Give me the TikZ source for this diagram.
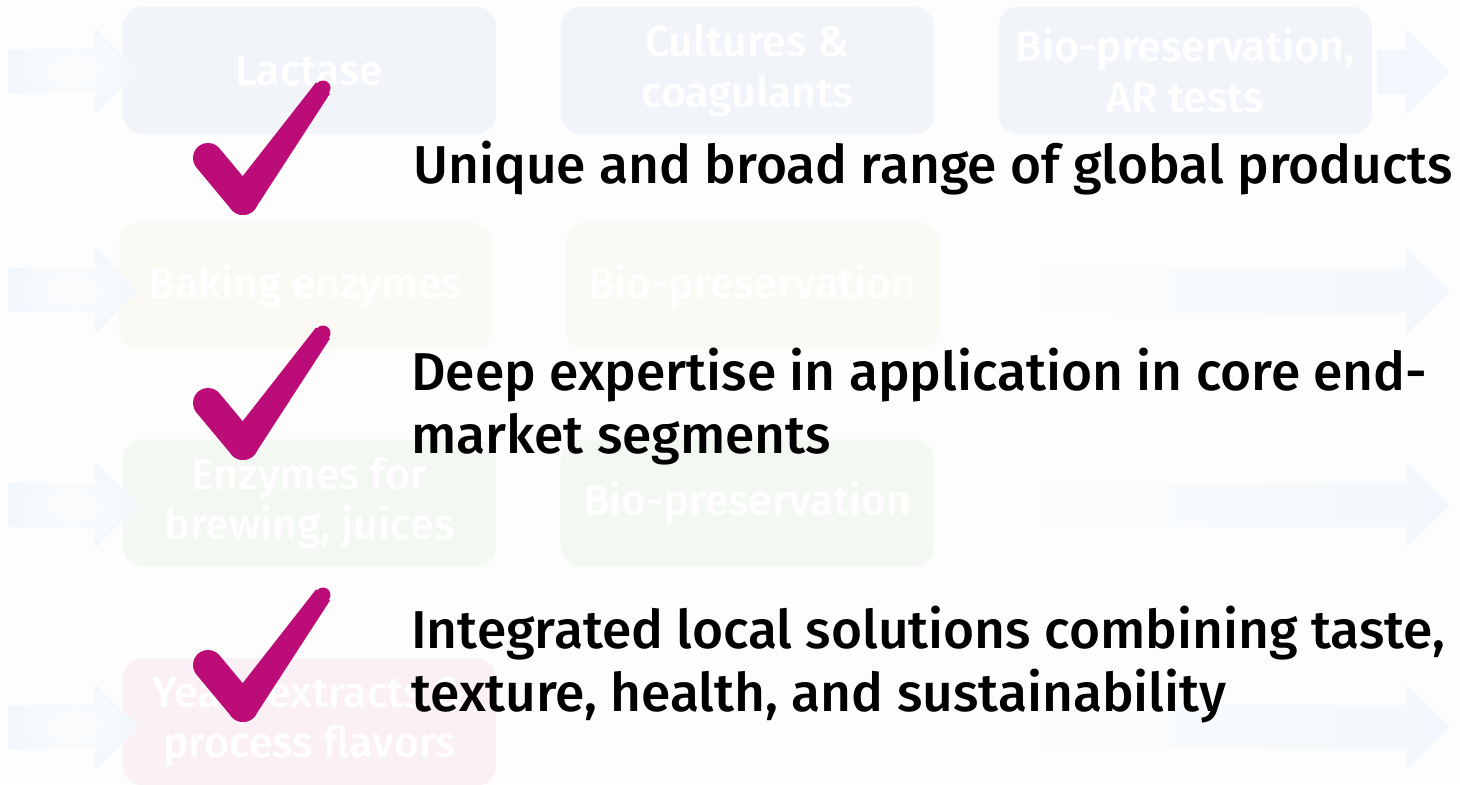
\documentclass[tikz,border=0pt]{standalone}
\usepackage{fontspec}
\setmainfont{Fira Sans}[UprightFont=* Medium, BoldFont=* SemiBold]
\usetikzlibrary{positioning}
\definecolor{tickmag}{HTML}{BC0C77}
\definecolor{rowblue}{HTML}{F1F5FA}
\definecolor{rowsand}{HTML}{FBF9F3}
\definecolor{rowgreen}{HTML}{F4F8F3}
\definecolor{rowpink}{HTML}{FBF0F5}
\definecolor{arrowblue}{HTML}{F1F7FC}
\definecolor{pagebg}{HTML}{FDFDFD}
% block arrow: shaft start x, head start x, centre y
\newcommand\blockarrow[4][left color=pagebg, right color=arrowblue]{%
  \path[#1] (#2,#4-22) -- (#3,#4-22) -- (#3,#4-43) -- (#3+44,#4) -- (#3,#4+43) -- (#3,#4+22) -- (#2,#4+22) -- cycle;}

\begin{document}
\begin{tikzpicture}[x=0.025cm, y=-0.025cm,
      seg/.style={rectangle, rounded corners=0.5cm, minimum width=9.33cm, minimum height=3.18cm, inner sep=0pt, text=white, align=center, font=\fontsize{30.5}{36}\selectfont},
      point/.style={anchor=base west, inner sep=0pt, font=\fontsize{37.9}{45}\selectfont},
      tick/.pic={
        \fill[tickmag] (12.2,8.7) -- (87,-106.5) -- (73,-117.5) -- (-12.2,-8.7) -- cycle;
        \fill[tickmag] (80,-112) circle[radius=7.5];
        \fill[tickmag] (0,0) circle[radius=15];
        \draw[tickmag, line width=0.75cm, line cap=round] (-35,-42) -- (0,0);
      }]

\fill[pagebg] (0,0) rectangle (1460,784);
\useasboundingbox (0,0) rectangle (1460,784);

% faded rows
\node[seg, fill=rowblue] (lac) at (309.5,70.5) {Lactase};
\node[seg, fill=rowblue, right=1.6cm of lac] (cult) {Cultures \&\\coagulants};
\node[seg, fill=rowblue, right=1.6cm of cult] (art) {Bio-preservation,\\AR tests};
\node[seg, fill=rowsand] (bak) at (305.5,286) {Baking enzymes};
\node[seg, fill=rowsand, right=1.825cm of bak] (bio1) {Bio-preservation};
\node[seg, fill=rowgreen] (brew) at (309.5,503) {Enzymes for\\brewing, juices};
\node[seg, fill=rowgreen, right=1.6cm of brew] (bio2) {Bio-preservation};
\node[seg, fill=rowpink] (yeast) at (309.5,722) {Yeast extracts \&\\process flavors};

\foreach \y in {71,290,505,727}
  \blockarrow[inner color=pagebg, outer color=arrowblue]{8}{95}{\y};
\blockarrow[fill=arrowblue]{1377}{1406}{72};
\foreach \y in {291,505,727}
  \blockarrow{1002}{1406}{\y};

% ticks
\pic at (243,200) {tick};
\pic at (243,445) {tick};
\pic at (243,707) {tick};

% points
\node[point] (p1) at (413,183) {Unique and broad range of global products};
\node[point] (p2) at (411,390) {Deep expertise in application in core end-};
\node[point] (p2b) at (411,453) {market segments};
\node[point] (p3) at (411,648) {Integrated local solutions combining taste,};
\node[point] (p3b) at (411,711) {texture, health, and sustainability};

\end{tikzpicture}
\end{document}
